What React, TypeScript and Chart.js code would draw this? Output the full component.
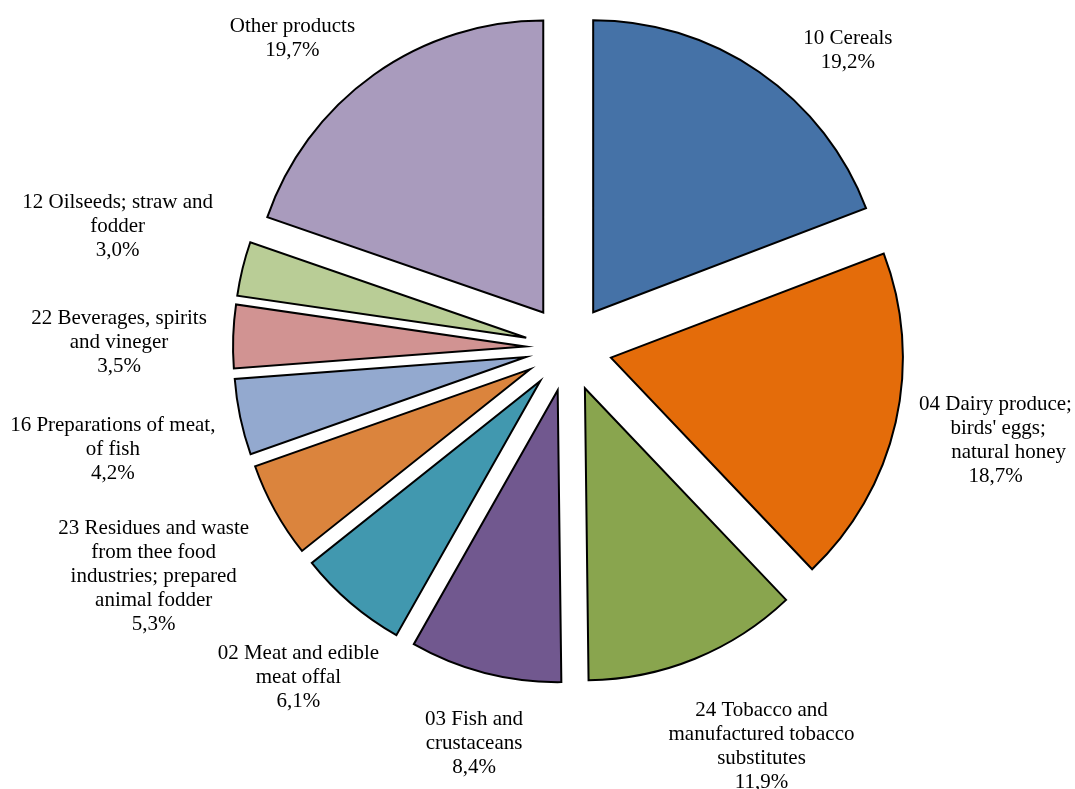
import React, { useEffect, useRef } from 'react';
import { Chart, registerables } from 'chart.js';

Chart.register(...registerables);

// ---- data ----
const CATEGORIES = [
  '10 Cereals',
  "04 Dairy produce;\n birds' eggs;\n     natural honey",
  '24 Tobacco and\nmanufactured tobacco\nsubstitutes',
  '03 Fish and\ncrustaceans',
  '02 Meat and edible\nmeat offal',
  '23 Residues and waste\nfrom thee food\nindustries; prepared\nanimal fodder',
  '16 Preparations of meat,\nof fish',
  '22 Beverages, spirits\nand vineger',
  '12 Oilseeds; straw and\nfodder',
  'Other products',
];
const VALUES = [19.2, 18.7, 11.9, 8.4, 6.1, 5.3, 4.2, 3.5, 3.0, 19.7];
const COLORS = [
  '#4572A7', '#E46C0A', '#89A54E', '#71588F', '#4198AF',
  '#DB843D', '#93A9CF', '#D19392', '#B9CD96', '#A99BBD',
];

// ---- layout (label placement relative to each exploded slice) ----
const LABEL_EXTRA = [75, 101, 106, 69, 89, 137, 131, 114, 132, 81]; // px beyond outer radius
const LABEL_TURN = [9.4, -0.9, -4.2, -1.0, -1.1, 0.4, -0.5, -1.2, 1.8, -6.8]; // degrees
const EXPLODE = 43.5;
const RADIUS = 292;
const FONT = '21px "Liberation Serif", "Times New Roman", serif';
const LINE_H = 24;
const TEXT_DY = 2;

const fmtPct = (v: number) => v.toFixed(1).replace('.', ',') + '%';

const explodedPie = {
  id: 'explodedPie',
  beforeDatasetDraw(chart: any, args: any) {
    const ctx = chart.ctx;
    args.meta.data.forEach((arc: any) => {
      const { x, y, startAngle, endAngle, outerRadius } = arc.getProps(
        ['x', 'y', 'startAngle', 'endAngle', 'outerRadius'], true);
      const o = arc.options;
      const mid = (startAngle + endAngle) / 2;
      const cx = x + Math.cos(mid) * EXPLODE;
      const cy = y + Math.sin(mid) * EXPLODE;
      ctx.save();
      ctx.beginPath();
      ctx.moveTo(cx, cy);
      ctx.arc(cx, cy, outerRadius, startAngle, endAngle);
      ctx.closePath();
      ctx.fillStyle = o.backgroundColor;
      ctx.fill();
      ctx.lineWidth = o.borderWidth;
      ctx.strokeStyle = o.borderColor;
      ctx.lineJoin = 'miter';
      ctx.stroke();
      ctx.restore();
    });
    return false;
  },
  afterDatasetsDraw(chart: any) {
    const ctx = chart.ctx;
    const meta = chart.getDatasetMeta(0);
    const labels = chart.data.labels;
    const values = chart.data.datasets[0].data;
    meta.data.forEach((arc: any, i: number) => {
      const { x, y, startAngle, endAngle, outerRadius } = arc.getProps(
        ['x', 'y', 'startAngle', 'endAngle', 'outerRadius'], true);
      const mid = (startAngle + endAngle) / 2;
      const vx = x + Math.cos(mid) * EXPLODE;
      const vy = y + Math.sin(mid) * EXPLODE;
      const a = mid + (LABEL_TURN[i] * Math.PI) / 180;
      const d = outerRadius + LABEL_EXTRA[i];
      const lx = vx + Math.cos(a) * d;
      const ly = vy + Math.sin(a) * d + TEXT_DY;
      const lines = String(labels[i]).split('\n').concat([fmtPct(values[i])]);
      ctx.save();
      ctx.font = FONT;
      ctx.fillStyle = '#000';
      ctx.textAlign = 'center';
      ctx.textBaseline = 'middle';
      lines.forEach((ln: string, k: number) => {
        ctx.fillText(ln, lx, ly + (k - (lines.length - 1) / 2) * LINE_H);
      });
      ctx.restore();
    });
  },
};

export default function App() {
  const ref = useRef<HTMLCanvasElement | null>(null);
  useEffect(() => {
    if (!ref.current) return;
    const chart = new Chart(ref.current, {
      type: 'pie',
      data: {
        labels: CATEGORIES,
        datasets: [{
          data: VALUES,
          backgroundColor: COLORS,
          borderColor: '#000',
          borderWidth: 2,
        }],
      },
      options: {
        responsive: false,
        maintainAspectRatio: false,
        animation: false,
        radius: RADIUS,
        layout: { padding: { left: 62, right: 0, top: 0, bottom: 93 } },
        plugins: {
          legend: { display: false },
          tooltip: { enabled: false },
        },
      } as any,
      plugins: [explodedPie],
    });
    return () => chart.destroy();
  }, []);
  return (
    <div style={{ position: 'absolute', left: 0, top: 0, width: 1075, height: 789, background: '#fff' }}>
      <canvas ref={ref} width={1075} height={789} />
    </div>
  );
}
